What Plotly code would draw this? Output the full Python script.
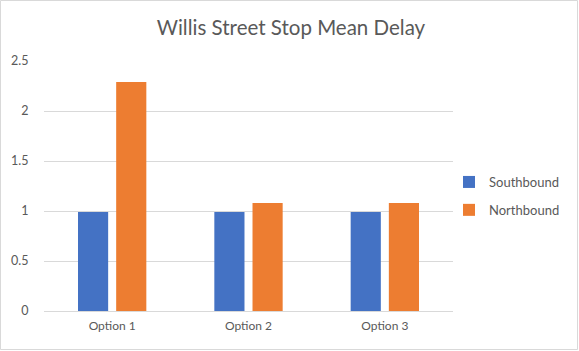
import plotly.graph_objects as go

categories = ["Option 1", "Option 2", "Option 3"]
southbound = [0.99, 0.99, 0.99]
northbound = [2.29, 1.08, 1.08]
y_ticks = [0, 0.5, 1, 1.5, 2, 2.5]
y_tick_labels = ["0", "0.5", "1", "1.5", "2", "2.5"]

W, H = 579, 351
ML, MR, MT, MB = 44, 126, 61, 40
PW, PH = W - ML - MR, H - MT - MB

TXT = "#595959"
FONT = "Lato, Open Sans, sans-serif"

fig = go.Figure()
fig.add_trace(go.Bar(name="Southbound", x=categories, y=southbound,
                     marker=dict(color="#4472C4", line=dict(width=0)),
                     legendgroup="s"))
fig.add_trace(go.Bar(name="Northbound", x=categories, y=northbound,
                     marker=dict(color="#ED7D31", line=dict(width=0)),
                     legendgroup="n"))

def px_to_paper_x(px):
    return (px - ML) / PW

def px_to_paper_y(py):
    return (H - MB - py) / PH

fig.update_layout(
    width=W, height=H,
    margin=dict(l=ML, r=MR, t=MT, b=MB, pad=0),
    paper_bgcolor="white", plot_bgcolor="white",
    font=dict(family=FONT, color=TXT, size=12),
    barmode="group", bargap=0.44, bargroupgap=0.21,
    title=dict(text="Willis Street Stop Mean Delay",
               font=dict(size=20.5, color=TXT, family=FONT),
               x=291 / W, xref="container", xanchor="center",
               y=1 - 28 / H, yanchor="middle"),
    xaxis=dict(showgrid=False, showline=False, zeroline=False,
               ticks="outside", ticklen=4, tickcolor="rgba(0,0,0,0)",
               tickfont=dict(size=12, color=TXT)),
    yaxis=dict(range=[0, 2.5], tickvals=y_ticks, ticktext=y_tick_labels,
               showgrid=True, gridcolor="#D9D9D9", gridwidth=1,
               zeroline=True, zerolinecolor="#D9D9D9", zerolinewidth=1,
               showline=False,
               ticks="outside", ticklen=12, tickcolor="rgba(0,0,0,0)",
               tickfont=dict(size=12.5, color=TXT)),
    legend=dict(x=px_to_paper_x(449), y=px_to_paper_y(196),
                xanchor="left", yanchor="middle",
                font=dict(size=13, color=TXT), tracegroupgap=8,
                bgcolor="rgba(0,0,0,0)"),
    shapes=[dict(type="rect", xref="paper", yref="paper",
                 x0=px_to_paper_x(0.5), x1=px_to_paper_x(577.5),
                 y0=px_to_paper_y(349.5), y1=px_to_paper_y(0.5),
                 line=dict(color="#D9D9D9", width=1), layer="below")],
)

fig.write_html("out.html")
